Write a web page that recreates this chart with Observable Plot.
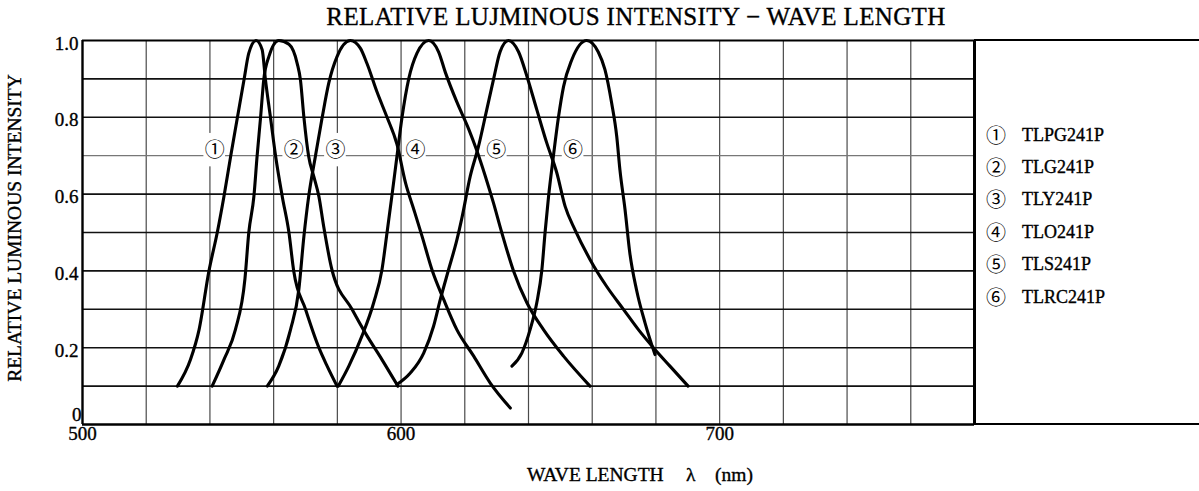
<!DOCTYPE html>
<html>
<head>
<meta charset="utf-8">
<script src="https://cdn.jsdelivr.net/npm/d3@7"></script>
<script src="https://cdn.jsdelivr.net/npm/@observablehq/plot@0.6"></script>
<style>
html,body{margin:0;padding:0;background:#fff;}
#wrap{position:relative;width:1199px;height:491px;overflow:hidden;font-family:"Liberation Serif",serif;color:#000;}
#chart{position:absolute;left:0;top:0;}
.t{position:absolute;white-space:nowrap;-webkit-text-stroke:0.35px #000;}
</style>
</head>
<body>
<div id="wrap">
  <div id="chart"></div>
</div>
<script>
// ---------------- DATA ----------------
const chartTitle = "RELATIVE LUJMINOUS INTENSITY \u2212 WAVE LENGTH";
const yLabel = "RELATIVE LUMINOUS INTENSITY";
const xLabelParts = ["WAVE LENGTH", "\u03BB", "(nm)"];

const seriesNames = ["TLPG241P", "TLG241P", "TLY241P", "TLO241P", "TLS241P", "TLRC241P"];
const seriesMarks = ["\u2460", "\u2461", "\u2462", "\u2463", "\u2464", "\u2465"];

// label positions on the chart (wavelength nm, relative intensity)
const labelX = [541.5, 566.3, 579.4, 604.5, 629.9, 654.0];
const labelY = [0.713, 0.713, 0.713, 0.713, 0.713, 0.713];

const xTicks = [500, 600, 700];
const yTicks = [0.2, 0.4, 0.6, 0.8, 1.0];
const yTickLabels = ["0.2", "0.4", "0.6", "0.8", "1.0"];
const xGrid = [520, 540, 560, 580, 600, 620, 640, 660, 680, 700, 720, 740, 760];
const yGridDark = [0.1, 0.2, 0.3, 0.4, 0.5, 0.6, 0.8, 0.9];
const yGridLight = [0.7];

// [wavelength nm, relative intensity]
const tlpg241p = [[529.8,0.1],[533.9,0.169],[536.6,0.247],[539.7,0.40],[542.3,0.5],[544.4,0.594],[546.5,0.698],[548.6,0.798],[550.7,0.898],[552.2,0.967],[554.5,1.0],[556.4,0.976],[557.4,0.9],[559,0.8],[560.6,0.7],[562.7,0.594],[564.8,0.5],[566.3,0.4],[570,0.3],[574.2,0.2],[576.8,0.152],[579.9,0.1]];
const tlg241p = [[540.7,0.1],[544.4,0.169],[548,0.247],[551,0.38],[552.2,0.5],[553.8,0.594],[554.8,0.698],[555.9,0.8],[556.9,0.898],[558.5,0.958],[561.6,1.0],[564.8,0.99],[567.4,0.94],[568.4,0.898],[569.5,0.8],[571,0.698],[572.6,0.646],[574.2,0.594],[575.7,0.516],[578.3,0.403],[584.6,0.3],[588.8,0.238],[594,0.169],[599,0.1]];
const tly241p = [[558,0.1],[561.6,0.152],[565.3,0.247],[567.9,0.351],[569.5,0.49],[571,0.594],[573.1,0.698],[575.2,0.798],[577.3,0.889],[579.9,0.958],[584.1,1.0],[587.2,0.98],[589.3,0.94],[592.4,0.867],[595.6,0.8],[598.7,0.73],[601.4,0.629],[604,0.56],[606.6,0.49],[609.7,0.403],[613.4,0.325],[617.5,0.247],[622.8,0.178],[628,0.108],[634.3,0.043]];
const tlo241p = [[580.3,0.1],[583.6,0.152],[587.7,0.23],[591.4,0.317],[594,0.403],[595.6,0.5],[597.1,0.594],[598.7,0.698],[600.3,0.8],[602.4,0.9],[605,0.967],[608.7,1.0],[611.8,0.97],[613.9,0.917],[617.5,0.84],[621.2,0.77],[623.8,0.713],[626.4,0.648],[629,0.577],[631.6,0.5],[635.3,0.4],[639.5,0.317],[644.7,0.247],[651,0.178],[659.3,0.1]];
const tls241p = [[598.7,0.104],[602.9,0.134],[607.1,0.186],[610.2,0.256],[612.3,0.325],[614.9,0.403],[617.5,0.48],[619.1,0.538],[621.7,0.646],[624.3,0.724],[626.9,0.82],[629,0.898],[631.1,0.971],[633.7,1.0],[636.9,0.97],[639.5,0.907],[642.6,0.82],[645.7,0.734],[648.9,0.655],[651.5,0.568],[654.6,0.507],[659.3,0.43],[664.5,0.36],[669.8,0.3],[674.5,0.247],[679.2,0.2],[684.4,0.152],[690.1,0.1]];
const tlrc241p = [[634.8,0.152],[637.9,0.186],[640.5,0.247],[642.6,0.317],[644.2,0.403],[645.2,0.5],[646.3,0.594],[647.8,0.698],[649.4,0.8],[651,0.88],[653.6,0.95],[658.3,1.0],[661.9,0.97],[664,0.924],[666.1,0.837],[667.7,0.75],[668.7,0.663],[670.3,0.56],[671.8,0.447],[673.9,0.351],[676.6,0.264],[679.7,0.182]];

// ---------------- BUILD ----------------
const allSeries = [tlpg241p, tlg241p, tly241p, tlo241p, tls241p, tlrc241p];
const rows = allSeries.flatMap((pts, i) => pts.map(([x, y]) => ({x, y, k: seriesNames[i]})));
const labelRows = seriesMarks.map((m, i) => ({x: labelX[i], y: labelY[i], text: m}));

const tickStyle = {fontSize: 19, fill: "#000", stroke: "#000", strokeWidth: 0.35};

const chart = Plot.plot({
  width: 1199,
  height: 491,
  marginTop: 40,
  marginBottom: 67,
  marginLeft: 82,
  marginRight: 225,
  x: {domain: [500, 780], axis: null},
  y: {domain: [0, 1], axis: null},
  style: {fontFamily: "'Liberation Serif', serif", background: "transparent", color: "#000"},
  marks: [
    Plot.ruleX(xGrid, {stroke: "#4a4a4a", strokeWidth: 1.2}),
    Plot.ruleY(yGridDark, {stroke: "#111", strokeWidth: 1.6}),
    Plot.ruleY(yGridLight, {stroke: "#777", strokeWidth: 1.3}),
    Plot.rect(labelRows, {x1: d => d.x - 3.4, x2: d => d.x + 3.4, y1: d => d.y - 0.042, y2: d => d.y + 0.045, fill: "white"}),
    Plot.ruleX([500], {stroke: "#000", strokeWidth: 2.4}),
    Plot.ruleX([780], {stroke: "#000", strokeWidth: 3}),
    Plot.ruleY([0], {stroke: "#000", strokeWidth: 2.4}),
    Plot.ruleY([1], {stroke: "#000", strokeWidth: 2}),
    Plot.line(rows, {x: "x", y: "y", z: "k", stroke: "#000", strokeWidth: 3.1, curve: "monotone-x"}),
    Plot.text(labelRows, {x: "x", y: "y", text: "text", fontSize: 20, fontFamily: "'Noto Sans CJK JP', sans-serif", fill: "#000"}),
    Plot.text(xTicks, {x: d => d, frameAnchor: "bottom", dy: 15, text: d => String(d), ...tickStyle}),
    Plot.text(yTicks, {y: d => d, frameAnchor: "left", textAnchor: "end", dx: -4, dy: 3, text: (d, i) => yTickLabels[i], ...tickStyle}),
    Plot.text([0], {y: d => d, frameAnchor: "left", textAnchor: "end", dx: -1, dy: -10, text: d => String(d), ...tickStyle})
  ]
});
document.getElementById("chart").appendChild(chart);

const wrap = document.getElementById("wrap");
function addText(txt, styles) {
  const d = document.createElement("div");
  d.className = "t";
  d.textContent = txt;
  Object.assign(d.style, styles);
  wrap.appendChild(d);
  return d;
}

// title
addText(chartTitle, {left: "636px", top: "4px", fontSize: "25px", lineHeight: "25px", transform: "translateX(-50%)", letterSpacing: "0.35px"});

// x label
addText(xLabelParts[0], {left: "527px", top: "465px", fontSize: "19.5px", lineHeight: "19.5px"});
addText(xLabelParts[1], {left: "686px", top: "465px", fontSize: "19.5px", lineHeight: "19.5px"});
addText(xLabelParts[2], {left: "715px", top: "465px", fontSize: "19.5px", lineHeight: "19.5px"});

// y label
addText(yLabel, {left: "15px", top: "228px", fontSize: "19.5px", lineHeight: "19.5px", transform: "translate(-50%,-50%) rotate(-90deg)"});

// legend box (extends the frame's top & bottom lines)
const box = document.createElement("div");
Object.assign(box.style, {position: "absolute", left: "974px", top: "39px", width: "225px", height: "386px", boxSizing: "border-box", borderTop: "2px solid #000", borderBottom: "2.5px solid #000"});
wrap.appendChild(box);

const legendY = [135, 167, 199, 232, 264, 297];
seriesNames.forEach((name, i) => {
  const m = addText(seriesMarks[i], {left: "996px", top: legendY[i] + "px", fontSize: "20px", lineHeight: "20px", fontFamily: "'Noto Sans CJK JP', sans-serif", transform: "translate(-50%,-50%)"});
  m.style.webkitTextStroke = "0px";
  addText(name, {left: "1022px", top: legendY[i] + "px", fontSize: "18px", lineHeight: "18px", transform: "translateY(-50%)"});
});
</script>
</body>
</html>
